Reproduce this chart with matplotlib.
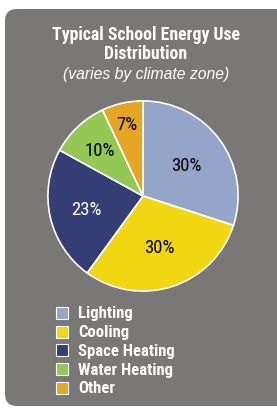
import matplotlib
matplotlib.use("Agg")
import matplotlib.pyplot as plt
from matplotlib.patches import FancyBboxPatch, Rectangle
import numpy as np

labels = ["Lighting", "Cooling", "Space Heating", "Water Heating", "Other"]
shares = [30, 30, 23, 10, 7]
colors = ["#95a5c9", "#f0d711", "#353e74", "#93c854", "#e5a626"]
pct_colors = ["black", "black", "white", "black", "black"]
pct_dist = [0.56, 0.56, 0.61, 0.66, 0.78]

font = ["Liberation Sans Narrow", "DejaVu Sans Condensed", "Roboto Condensed", "DejaVu Sans"]
W, H = 277, 410

fig = plt.figure(figsize=(W / 100, H / 100), dpi=100)
fig.patch.set_facecolor("white")

# grey rounded panel
bg = fig.add_axes([0, 0, 1, 1])
bg.set_xlim(0, W)
bg.set_ylim(H, 0)
bg.axis("off")
bg.add_patch(FancyBboxPatch((5, 10), 300, 397, boxstyle="round,pad=0,rounding_size=12",
                            fc="#7a7876", ec="none"))

tkw = dict(ha="center", va="center", color="white")
bg.text(146, 35, "Typical School Energy Use", fontsize=12.8, fontweight="bold",
        family=font, fontstretch="condensed", **tkw)
bg.text(146, 54, "Distribution", fontsize=12.8, fontweight="bold",
        family=font, fontstretch="condensed", **tkw)
bg.text(146, 75, "(varies by climate zone)", fontsize=11.3, style="italic",
        family=["Liberation Sans", "DejaVu Sans"], **tkw)

# pie
cx, cy, r = 143, 197, 97
ax = fig.add_axes([(cx - r) / W, (H - cy - r) / H, 2 * r / W, 2 * r / H])
ax.set_facecolor("none")
wedges, _ = ax.pie(shares, colors=colors, startangle=90, counterclock=False,
                   radius=1, wedgeprops=dict(edgecolor="white", linewidth=1.2))
ax.set_xlim(-1.02, 1.02)
ax.set_ylim(-1.02, 1.02)
ax.set_aspect("equal")

for w, s, c, d in zip(wedges, shares, pct_colors, pct_dist):
    ang = np.deg2rad((w.theta1 + w.theta2) / 2)
    ax.text(d * np.cos(ang), d * np.sin(ang), f"{s}%", ha="center", va="center",
            color=c, fontsize=13.5, family=font, fontstretch="condensed")

# legend
for i, (lab, col) in enumerate(zip(labels, colors)):
    y = 314 + i * 18.7
    bg.add_patch(Rectangle((56, y - 6), 12, 12, fc=col, ec="white", lw=0.8))
    bg.text(78, y, lab, ha="left", va="center", color="white", fontsize=12,
            fontweight="bold", family=font, fontstretch="condensed")

fig.savefig("out.png", dpi=100)
